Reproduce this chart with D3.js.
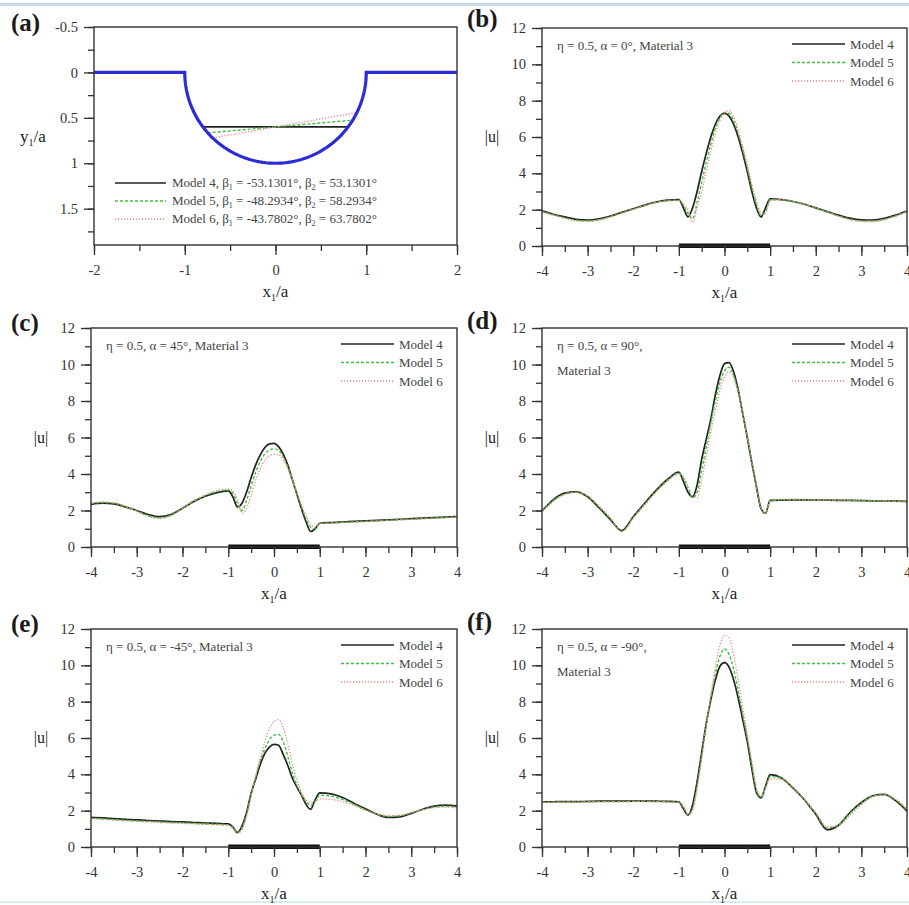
<!DOCTYPE html>
<html>
<head>
<meta charset="utf-8">
<title>|u| along the surface, Models 4-6</title>
<script src="https://d3js.org/d3.v7.min.js"></script>
<style>
  body { margin: 0; background: #fff; }
  svg text { font-family: "Liberation Serif", "Times New Roman", serif; fill: #333; }
  .tick line { stroke: #333; stroke-width: 1.3px; }
  .tick text { font-size: 14.5px; fill: #333; }
</style>
</head>
<body>
<svg width="909" height="905"></svg>
<script>
// ---- data ----
var models = ["Model 4", "Model 5", "Model 6"];
var beta1 = [-53.1301, -48.2934, -43.7802];
var beta2 = [53.1301, 58.2934, 63.7802];

// x1/a sample positions shared by all |u| curves
var xGrid = [-4, -3.75, -3.5, -3.25, -3, -2.75, -2.5, -2.25, -2, -1.75, -1.5, -1.25, -1,
  -0.9, -0.8, -0.7, -0.6, -0.5, -0.4, -0.3, -0.2, -0.1, 0, 0.1, 0.2, 0.3, 0.4, 0.5, 0.6, 0.7, 0.8, 0.9, 1,
  1.25, 1.5, 1.75, 2, 2.25, 2.5, 2.75, 3, 3.25, 3.5, 3.75, 4];

// (b) alpha = 0
var bM4 = [1.93,1.75,1.6,1.47,1.43,1.5,1.65,1.85,2.05,2.25,2.42,2.52,2.55, 2.1,1.6,2.1,3.0,4.1,5.1,6.0,6.7,7.15,7.3,7.15,6.7,6.0,5.1,4.1,3.0,2.1,1.6,2.1,2.6, 2.55,2.45,2.3,2.1,1.9,1.7,1.53,1.44,1.43,1.52,1.7,1.93];
var bM5 = [1.9,1.72,1.55,1.42,1.38,1.45,1.62,1.83,2.03,2.23,2.4,2.5,2.52, 2.25,1.8,1.5,2.4,3.5,4.6,5.6,6.5,7.05,7.35,7.3,6.9,6.2,5.3,4.3,3.2,2.3,1.7,1.9,2.55, 2.55,2.45,2.3,2.1,1.88,1.66,1.48,1.38,1.37,1.47,1.66,1.9];
var bM6 = [1.88,1.7,1.52,1.39,1.35,1.42,1.6,1.82,2.02,2.22,2.38,2.48,2.5, 2.3,2.0,1.3,2.1,3.0,4.1,5.2,6.2,6.9,7.35,7.45,7.1,6.4,5.5,4.5,3.4,2.5,1.85,1.8,2.5, 2.55,2.45,2.28,2.08,1.86,1.63,1.45,1.35,1.34,1.44,1.64,1.88];
// (c) alpha = 45
var cM4 = [2.34,2.4,2.36,2.2,2.0,1.78,1.66,1.78,2.12,2.5,2.78,2.98,3.07, 2.75,2.2,2.4,3.0,3.8,4.5,5.05,5.45,5.65,5.68,5.5,5.1,4.5,3.7,2.9,2.1,1.4,0.85,1.0,1.3, 1.34,1.37,1.4,1.43,1.46,1.49,1.52,1.55,1.58,1.61,1.64,1.67];
var cM5 = [2.38,2.44,2.4,2.22,1.98,1.72,1.6,1.74,2.12,2.52,2.82,3.03,3.12, 2.95,2.4,2.0,2.55,3.35,4.1,4.7,5.1,5.3,5.38,5.3,4.95,4.4,3.7,2.95,2.2,1.55,1.1,1.0,1.3, 1.32,1.35,1.38,1.41,1.44,1.47,1.5,1.53,1.56,1.59,1.62,1.65];
var cM6 = [2.4,2.46,2.42,2.22,1.96,1.68,1.56,1.72,2.12,2.54,2.86,3.08,3.18, 3.05,2.6,1.85,2.1,2.85,3.65,4.3,4.75,5.0,5.08,5.05,4.8,4.3,3.7,3.0,2.3,1.7,1.25,1.1,1.3, 1.3,1.33,1.36,1.39,1.42,1.45,1.48,1.51,1.54,1.57,1.6,1.63];
// (d) alpha = 90
var dM4 = [1.97,2.6,2.95,3.02,2.75,2.15,1.5,0.9,1.66,2.4,3.1,3.7,4.1, 3.6,3.0,2.75,3.4,4.8,5.9,7.0,8.35,9.4,10.05,10.1,9.6,8.6,7.3,6.0,4.6,3.3,2.1,1.85,2.55, 2.57,2.58,2.58,2.58,2.57,2.56,2.55,2.54,2.53,2.52,2.51,2.5];
var dM5 = [1.95,2.55,2.9,3.0,2.78,2.2,1.55,0.85,1.62,2.35,3.05,3.65,4.05, 3.75,3.2,2.7,3.0,4.2,5.5,6.8,8.0,9.0,9.65,9.85,9.4,8.5,7.3,6.0,4.6,3.3,2.15,1.85,2.55, 2.6,2.6,2.6,2.59,2.58,2.57,2.56,2.55,2.54,2.52,2.51,2.5];
var dM6 = [1.93,2.5,2.88,3.0,2.8,2.25,1.6,0.85,1.58,2.3,3.0,3.6,4.0, 3.85,3.35,2.8,2.7,3.7,5.0,6.3,7.5,8.6,9.3,9.6,9.3,8.5,7.4,6.1,4.7,3.4,2.2,1.85,2.5, 2.58,2.58,2.58,2.57,2.56,2.55,2.54,2.53,2.52,2.51,2.5,2.49];
// (e) alpha = -45
var eM4 = [1.63,1.6,1.56,1.52,1.49,1.46,1.43,1.4,1.38,1.35,1.32,1.3,1.27, 1.1,0.8,1.15,1.9,2.95,3.75,4.55,5.15,5.5,5.65,5.6,5.1,4.5,3.8,3.3,2.85,2.35,2.07,2.6,2.98, 2.92,2.72,2.4,2.1,1.8,1.63,1.66,1.85,2.08,2.25,2.31,2.25];
var eM5 = [1.58,1.55,1.51,1.47,1.44,1.41,1.38,1.35,1.33,1.3,1.27,1.25,1.22, 1.05,0.78,1.05,1.8,2.9,3.85,4.75,5.4,5.9,6.15,6.2,5.8,5.0,4.1,3.4,2.9,2.5,2.3,2.5,2.85, 2.8,2.62,2.35,2.05,1.8,1.68,1.72,1.88,2.06,2.2,2.24,2.2];
var eM6 = [1.55,1.52,1.48,1.44,1.41,1.38,1.35,1.32,1.3,1.27,1.25,1.22,1.2, 1.05,0.75,0.95,1.7,2.8,3.9,4.9,5.8,6.5,6.9,7.0,6.6,5.7,4.6,3.7,3.0,2.6,2.45,2.5,2.65, 2.62,2.5,2.28,2.02,1.82,1.72,1.75,1.88,2.04,2.16,2.2,2.15];
// (f) alpha = -90
var fM4 = [2.48,2.49,2.5,2.5,2.51,2.52,2.52,2.52,2.53,2.53,2.52,2.51,2.48, 2.1,1.76,2.3,3.6,5.2,6.8,8.1,9.2,9.95,10.15,9.9,9.2,8.2,7.0,5.8,4.3,3.0,2.7,3.35,3.98, 3.8,3.25,2.6,1.8,0.95,1.2,1.9,2.45,2.82,2.9,2.55,1.98];
var fM5 = [2.46,2.47,2.48,2.48,2.49,2.5,2.5,2.5,2.51,2.51,2.5,2.49,2.46, 2.2,1.75,2.1,3.4,5.0,6.7,8.2,9.5,10.5,10.9,10.6,9.8,8.6,7.3,6.0,4.5,3.1,2.75,3.3,3.88, 3.78,3.28,2.62,1.85,1.05,1.22,1.85,2.4,2.8,2.88,2.6,2.05];
var fM6 = [2.45,2.46,2.47,2.47,2.48,2.49,2.49,2.49,2.5,2.5,2.49,2.48,2.45, 2.25,1.8,2.0,3.2,4.9,6.7,8.4,9.9,11.1,11.65,11.5,10.6,9.2,7.7,6.2,4.7,3.3,2.8,3.2,3.75, 3.72,3.25,2.62,1.9,1.1,1.18,1.75,2.32,2.75,2.86,2.62,2.1];

var uTicks = [0, 2, 4, 6, 8, 10, 12];
var xTicks = [-4, -3, -2, -1, 0, 1, 2, 3, 4];
var aXTicks = [-2, -1, 0, 1, 2];
var aYTicks = [-0.5, 0, 0.5, 1, 1.5];

// ---- styles ----
var styles = [
  { stroke: "#222", width: 1.7, dash: null },
  { stroke: "#3cc23c", width: 1.4, dash: "3,2" },
  { stroke: "#ee8080", width: 1.3, dash: "1.2,1.8" }
];

var svg = d3.select("svg");
svg.append("rect").attr("x", 0).attr("y", 3).attr("width", 909).attr("height", 3).attr("fill", "#c8dbea");
svg.append("rect").attr("x", 0).attr("y", 901).attr("width", 909).attr("height", 2).attr("fill", "#d6edf0");

function styleLine(sel, s) {
  sel.attr("fill", "none").attr("stroke", s.stroke).attr("stroke-width", s.width);
  if (s.dash) sel.attr("stroke-dasharray", s.dash);
  return sel;
}

function drawAxes(g, x, y, xMajor, xMinor, yMajor, yMinor, y0, x0) {
  var noDomain = function(a) { a.select(".domain").remove(); };
  g.append("g").attr("transform", "translate(0," + y0 + ")")
    .call(d3.axisBottom(x).tickValues(xMinor).tickSize(6).tickFormat("")).call(noDomain);
  g.append("g").attr("transform", "translate(0," + y0 + ")")
    .call(d3.axisBottom(x).tickValues(xMajor).tickSize(10).tickPadding(10).tickFormat(function(d) { return String(d); }))
    .call(noDomain);
  g.append("g").attr("transform", "translate(" + x0 + ",0)")
    .call(d3.axisLeft(y).tickValues(yMinor).tickSize(6).tickFormat("")).call(noDomain);
  g.append("g").attr("transform", "translate(" + x0 + ",0)")
    .call(d3.axisLeft(y).tickValues(yMajor).tickSize(10).tickPadding(6).tickFormat(function(d) { return String(d); }))
    .call(noDomain);
}

function xTitle(g, cx, yb) {
  var t = g.append("text").attr("x", cx).attr("y", yb).attr("text-anchor", "middle").style("font-size", "17px").style("fill", "#222");
  t.append("tspan").text("x");
  t.append("tspan").attr("dy", 4).style("font-size", "10px").text("1");
  t.append("tspan").attr("dy", -4).text("/a");
}

function panelLabel(txt, lx, ly) {
  svg.append("text").attr("x", lx).attr("y", ly).style("font-size", "25px").style("font-weight", "bold")
    .style("fill", "#1a1a1a").text(txt);
}

// ---- panel (a) ----
(function() {
  var L = 94, R = 457, T = 27, B = 245;
  var x = d3.scaleLinear().domain([-2, 2]).range([L, R]);
  var y = d3.scaleLinear().domain([-0.5, 1.9]).range([T, B]);
  var g = svg.append("g");

  // canyon profile: flat surface with a semicircular canyon of radius a
  var arc = d3.range(-90, 90.5, 2).map(function(t) {
    var r = t * Math.PI / 180;
    return [Math.sin(r), Math.cos(r)];
  });
  var profile = [[-2, 0], [-1, 0]].concat(arc, [[1, 0], [2, 0]]);

  // interface chords, one per model
  models.forEach(function(m, i) {
    var b1 = beta1[i] * Math.PI / 180, b2 = beta2[i] * Math.PI / 180;
    styleLine(g.append("line"), styles[i])
      .attr("x1", x(Math.sin(b1))).attr("y1", y(Math.cos(b1)))
      .attr("x2", x(Math.sin(b2))).attr("y2", y(Math.cos(b2)));
  });

  g.append("path").datum(profile)
    .attr("d", d3.line().x(function(d) { return x(d[0]); }).y(function(d) { return y(d[1]); }))
    .attr("fill", "none").attr("stroke", "#2c2cd4").attr("stroke-width", 3.2);

  g.append("rect").attr("x", L).attr("y", T).attr("width", R - L).attr("height", B - T)
    .attr("fill", "none").attr("stroke", "#333").attr("stroke-width", 1.4);

  drawAxes(g, x, y, aXTicks, d3.range(-4, 5).map(function(i) { return i / 2; }),
    aYTicks, d3.range(-2, 8).map(function(i) { return i / 4; }), B, L);

  // legend
  models.forEach(function(m, i) {
    var ly = 183 + i * 18;
    styleLine(g.append("line"), styles[i]).attr("x1", 115).attr("x2", 166).attr("y1", ly).attr("y2", ly);
    var t = g.append("text").attr("x", 172).attr("y", ly + 4).style("font-size", "13px").style("fill", "#444");
    t.append("tspan").text(m + ", β");
    t.append("tspan").attr("dy", 3).style("font-size", "8px").text("1");
    t.append("tspan").attr("dy", -3).text(" = " + beta1[i].toFixed(4) + "°, β");
    t.append("tspan").attr("dy", 3).style("font-size", "8px").text("2");
    t.append("tspan").attr("dy", -3).text(" = " + beta2[i].toFixed(4) + "°");
  });

  xTitle(g, (L + R) / 2, 297);
  var yt = g.append("text").attr("x", 20).attr("y", 142).style("font-size", "17px").style("fill", "#222");
  yt.append("tspan").text("y");
  yt.append("tspan").attr("dy", 4).style("font-size", "10px").text("1");
  yt.append("tspan").attr("dy", -4).text("/a");
  panelLabel("(a)", 11, 31);
})();

// ---- panels (b)-(f) ----
var panels = [
  { label: "(b)", L: 542, R: 907, T: 28, B: 246, series: [bM4, bM5, bM6], note: ["η = 0.5, α = 0°, Material 3"], lx: 467, ly: 27 },
  { label: "(c)", L: 91, R: 457, T: 328, B: 547, series: [cM4, cM5, cM6], note: ["η = 0.5, α = 45°, Material 3"], lx: 11, ly: 331 },
  { label: "(d)", L: 542, R: 907, T: 328, B: 547, series: [dM4, dM5, dM6], note: ["η = 0.5, α = 90°,", "Material 3"], lx: 467, ly: 329 },
  { label: "(e)", L: 91, R: 457, T: 629, B: 847, series: [eM4, eM5, eM6], note: ["η = 0.5, α = -45°, Material 3"], lx: 11, ly: 632 },
  { label: "(f)", L: 542, R: 907, T: 629, B: 847, series: [fM4, fM5, fM6], note: ["η = 0.5, α = -90°,", "Material 3"], lx: 467, ly: 630 }
];

panels.forEach(function(p) {
  var x = d3.scaleLinear().domain([-4, 4]).range([p.L, p.R]);
  var y = d3.scaleLinear().domain([0, 12]).range([p.B, p.T]);
  var g = svg.append("g");
  var line = d3.line()
    .x(function(d, i) { return x(xGrid[i]); })
    .y(function(d) { return y(d); })
    .curve(d3.curveMonotoneX);

  p.series.forEach(function(s, i) {
    styleLine(g.append("path").datum(s).attr("d", line), styles[i]);
  });

  // canyon opening marked on the surface
  g.append("rect").attr("x", x(-1)).attr("y", p.B - 2.5).attr("width", x(1) - x(-1)).attr("height", 4.5).attr("fill", "#111");

  g.append("rect").attr("x", p.L).attr("y", p.T).attr("width", p.R - p.L).attr("height", p.B - p.T)
    .attr("fill", "none").attr("stroke", "#333").attr("stroke-width", 1.4);

  drawAxes(g, x, y, xTicks, d3.range(-8, 9).map(function(i) { return i / 2; }),
    uTicks, d3.range(0, 13), p.B, p.L);

  p.note.forEach(function(n, k) {
    g.append("text").attr("x", p.L + 15).attr("y", p.T + 22 + k * 25).style("font-size", "13px").style("fill", "#444").text(n);
  });

  models.forEach(function(m, i) {
    var ly = p.T + 16 + i * 18.5;
    styleLine(g.append("line"), styles[i]).attr("x1", p.L + 250).attr("x2", p.L + 303).attr("y1", ly).attr("y2", ly);
    g.append("text").attr("x", p.L + 308).attr("y", ly + 4.5).style("font-size", "13px").style("fill", "#444").text(m);
  });

  xTitle(g, (p.L + p.R) / 2, p.B + 52);
  g.append("text").attr("x", p.L - 50).attr("y", (p.T + p.B) / 2 + 5).attr("text-anchor", "middle")
    .style("font-size", "16px").style("fill", "#222").text("|u|");
  panelLabel(p.label, p.lx, p.ly);
});
</script>
</body>
</html>
